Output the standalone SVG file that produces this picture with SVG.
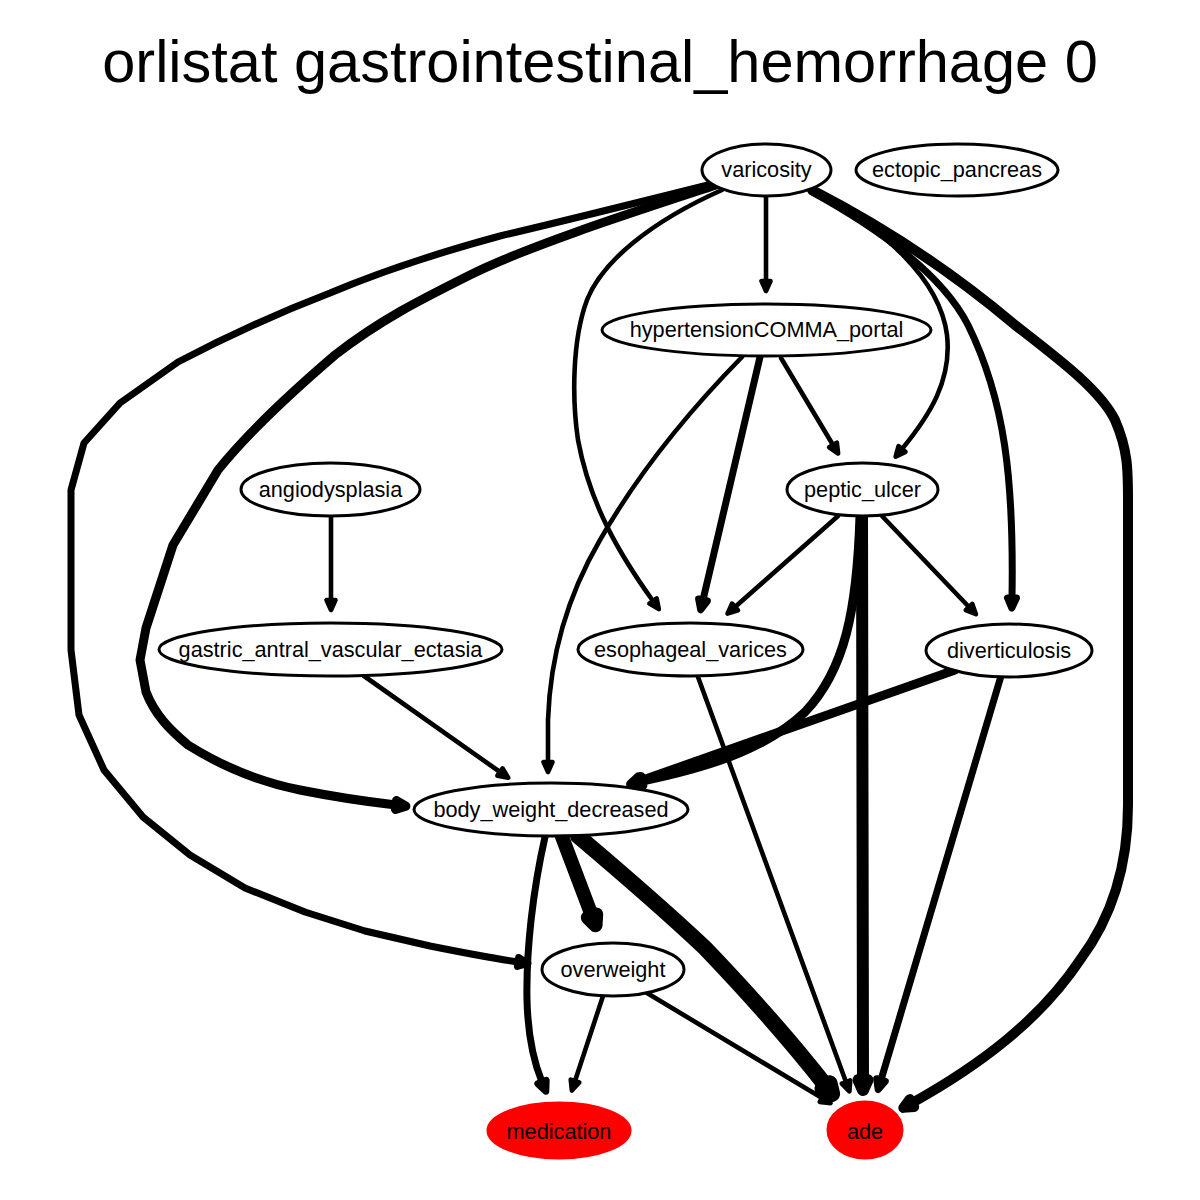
<svg xmlns="http://www.w3.org/2000/svg" width="1200" height="1200" viewBox="0 0 1200 1200">
<style>
.node ellipse{fill:#fff;stroke:#000;stroke-width:3}
.node.red ellipse{fill:#ff0000;stroke:#ff0000}
.node text{font-family:"Liberation Sans",Arial,sans-serif;font-size:21.7px;text-anchor:middle;fill:#000}
.title{font-family:"Liberation Sans",Arial,sans-serif;font-size:59.5px;text-anchor:middle;fill:#000}
#edges path{fill:none;stroke:#000;stroke-linecap:round;stroke-linejoin:round}
.w4{stroke-width:4.6}.w6{stroke-width:6}.w7{stroke-width:7}.w9{stroke-width:9}.w10{stroke-width:10}.w12{stroke-width:12}.w14{stroke-width:14}.w16{stroke-width:16}
.a4{marker-end:url(#m4)}.a6{marker-end:url(#m6)}.a7{marker-end:url(#m7)}.a9{marker-end:url(#m9)}.a10{marker-end:url(#m10)}.a12{marker-end:url(#m12)}.a14{marker-end:url(#m14)}.a16{marker-end:url(#m16)}
marker polygon{fill:#000;stroke:#000;stroke-linejoin:round}
</style>
<defs>
<marker id="m4" markerUnits="userSpaceOnUse" orient="auto" refX="0" refY="0" overflow="visible"><polygon points="0,-4.5 10,0 0,4.5" stroke-width="4.6"/></marker>
<marker id="m6" markerUnits="userSpaceOnUse" orient="auto" refX="0" refY="0" overflow="visible"><polygon points="0,-4.5 10,0 0,4.5" stroke-width="6"/></marker>
<marker id="m7" markerUnits="userSpaceOnUse" orient="auto" refX="0" refY="0" overflow="visible"><polygon points="0,-4.5 10,0 0,4.5" stroke-width="7"/></marker>
<marker id="m9" markerUnits="userSpaceOnUse" orient="auto" refX="0" refY="0" overflow="visible"><polygon points="0,-4.5 10,0 0,4.5" stroke-width="9"/></marker>
<marker id="m10" markerUnits="userSpaceOnUse" orient="auto" refX="0" refY="0" overflow="visible"><polygon points="0,-4.5 10,0 0,4.5" stroke-width="10"/></marker>
<marker id="m12" markerUnits="userSpaceOnUse" orient="auto" refX="0" refY="0" overflow="visible"><polygon points="0,-4.5 10,0 0,4.5" stroke-width="12"/></marker>
<marker id="m14" markerUnits="userSpaceOnUse" orient="auto" refX="0" refY="0" overflow="visible"><polygon points="0,-4.5 10,0 0,4.5" stroke-width="14"/></marker>
<marker id="m16" markerUnits="userSpaceOnUse" orient="auto" refX="0" refY="0" overflow="visible"><polygon points="0,-4.5 10,0 0,4.5" stroke-width="16"/></marker>
</defs>
<rect width="1200" height="1200" fill="#fff"/>
<text class="title" x="600" y="82">orlistat gastrointestinal_hemorrhage 0</text>
<g id="edges">
<path class="w4 a4" d="M766,197 L766,281"/>
<path class="w4 a4" d="M722,190 C650,222 602,262 587,300 C572,340 572,400 578,440 C590,505 620,555 653,601"/>
<path class="w4 a4" d="M810,190 C885,228 940,280 947,335 C952,380 930,415 902,449"/>
<path class="w7 a7" d="M812,192 C890,235 945,280 968,325 C1005,400 1014,480 1012,598"/>
<path class="w10 a10" d="M812,190 C880,225 950,270 1015,325 C1060,360 1100,390 1115,420 C1128,450 1128,470 1128,500 L1128,805 C1128,870 1110,920 1080,960 C1040,1020 980,1065 912,1103"/>
<path class="w9 a9" d="M716,185 C640,210 530,245 470,275 C420,300 380,320 335,355 C300,385 250,430 218,470 L173,545 L146,628 L140,660 L146,692 C155,715 170,730 188,745 C220,765 260,782 300,790 C340,798 370,802 396,805"/>
<path class="w7 a7" d="M716,183 C620,207 560,222 500,236 C430,255 380,272 330,293 C270,316 220,340 178,362 L120,403 L84,443 L71,490 L71,650 L79,715 L104,770 L143,817 L190,855 L245,888 L305,912 L365,931 L430,946 C460,952 490,958 518,962"/>
<path class="w7 a7" d="M760,357 L703,600"/>
<path class="w4 a4" d="M781,358 L833,445"/>
<path class="w4 a4" d="M742,357 C690,410 640,470 600,540 C565,600 550,660 548,720 L548,762"/>
<path class="w4 a4" d="M331,517 L331,600"/>
<path class="w4 a4" d="M838,516 L735,607"/>
<path class="w4 a4" d="M882,516 L969,607"/>
<path class="w12 a12" d="M862,516 L863,1080"/>
<path class="w9 a9" d="M860,516 C857,610 845,670 805,712 C770,745 720,765 642,781"/>
<path class="w4 a4" d="M364,676 L500,772"/>
<path class="w4 a4" d="M698,677 L846,1082"/>
<path class="w9 a9" d="M955,670 L640,781"/>
<path class="w7 a7" d="M1001,676 L881,1080"/>
<path class="w14 a14" d="M561,834 L592,916"/>
<path class="w7 a7" d="M545,837 C533,890 526,950 527,1000 C528,1040 535,1065 542,1082"/>
<path class="w16 a16" d="M578,836 C630,880 670,915 705,948 C750,995 790,1040 826,1086"/>
<path class="w4 a4" d="M603,996 L575,1081"/>
<path class="w4 a4" d="M647,993 L822,1098"/>
</g>
<g id="varicosity" class="node"><ellipse cx="766.5" cy="170" rx="64.5" ry="26"/><text x="766.5" y="177">varicosity</text></g>
<g id="ectopic_pancreas" class="node"><ellipse cx="957" cy="170" rx="101" ry="26"/><text x="957" y="177">ectopic_pancreas</text></g>
<g id="hypertensionCOMMA_portal" class="node"><ellipse cx="766.5" cy="330" rx="164.5" ry="26"/><text x="766.5" y="337">hypertensionCOMMA_portal</text></g>
<g id="angiodysplasia" class="node"><ellipse cx="330.5" cy="489.5" rx="89.5" ry="26.5"/><text x="330.5" y="496.5">angiodysplasia</text></g>
<g id="peptic_ulcer" class="node"><ellipse cx="862.5" cy="489.5" rx="75.5" ry="26.5"/><text x="862.5" y="496.5">peptic_ulcer</text></g>
<g id="gastric_antral_vascular_ectasia" class="node"><ellipse cx="330.5" cy="649.5" rx="171.5" ry="26.5"/><text x="330.5" y="656.5">gastric_antral_vascular_ectasia</text></g>
<g id="esophageal_varices" class="node"><ellipse cx="690.5" cy="649.5" rx="112.5" ry="26.5"/><text x="690.5" y="656.5">esophageal_varices</text></g>
<g id="diverticulosis" class="node"><ellipse cx="1009" cy="650.5" rx="83" ry="26.5"/><text x="1009" y="658">diverticulosis</text></g>
<g id="body_weight_decreased" class="node"><ellipse cx="551" cy="809.5" rx="137" ry="26.5"/><text x="551" y="816.5">body_weight_decreased</text></g>
<g id="overweight" class="node"><ellipse cx="613" cy="969.5" rx="71" ry="26.5"/><text x="613" y="976.5">overweight</text></g>
<g id="medication" class="node red"><ellipse cx="559" cy="1130.5" rx="71" ry="27.5"/><text x="559" y="1138.5">medication</text></g>
<g id="ade" class="node red"><ellipse cx="865" cy="1130" rx="37" ry="28"/><text x="865" y="1138.5">ade</text></g>
</svg>
